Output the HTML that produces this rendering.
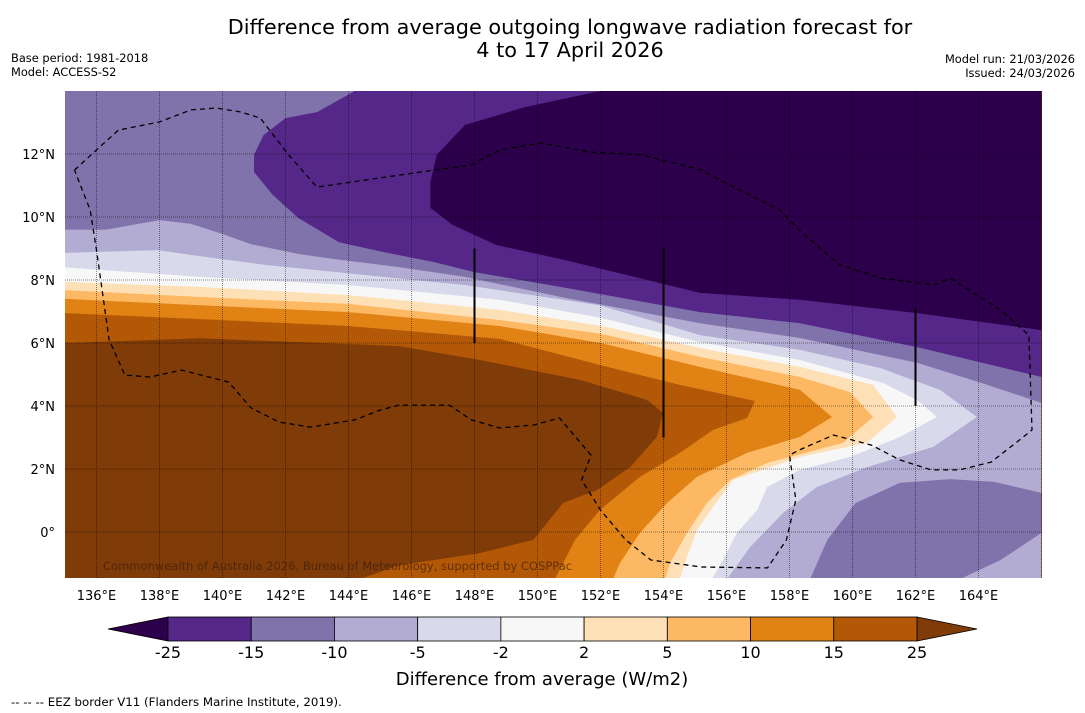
<!DOCTYPE html>
<html><head><meta charset="utf-8"><style>
body{margin:0;background:#fff;width:1085px;height:713px;overflow:hidden;font-family:"Liberation Sans","DejaVu Sans",sans-serif}
svg{display:block}
</style></head><body>
<svg id="chart" width="1085" height="713" xmlns="http://www.w3.org/2000/svg" font-family="'DejaVu Sans','Liberation Sans',sans-serif">
<text x="570" y="34" font-size="20.8" text-anchor="middle">Difference from average outgoing longwave radiation forecast for</text>
<text x="570" y="57" font-size="20.8" text-anchor="middle">4 to 17 April 2026</text>
<text x="11" y="62" font-size="11.4">Base period: 1981-2018</text>
<text x="11" y="76" font-size="11.4">Model: ACCESS-S2</text>
<text x="1075" y="63" font-size="11.4" text-anchor="end">Model run: 21/03/2026</text>
<text x="1075" y="77" font-size="11.4" text-anchor="end">Issued: 24/03/2026</text>
<defs><clipPath id="mapclip"><rect x="65" y="91" width="977" height="487"/></clipPath></defs>
<g id="map" clip-path="url(#mapclip)"></g>
<g id="axes"></g>
<g id="cbar"></g>
<text x="542" y="685" font-size="18" text-anchor="middle">Difference from average (W/m2)</text>
<text x="11" y="706" font-size="11.8">--  --  -- EEZ border V11 (Flanders Marine Institute, 2019).</text>
</svg>
<script>
const NS="http://www.w3.org/2000/svg";
const levels=[-25,-15,-10,-5,-2,2,5,10,15,25];
const levelLabels=["-25","-15","-10","-5","-2","2","5","10","15","25"];
const bandColors=["#2d004b","#542788","#8073ac","#b2abd2","#d8daeb","#f7f7f7","#fee0b6","#fdb863","#e08214","#b35806","#7f3b08"];
const lonTicks=[136,138,140,142,144,146,148,150,152,154,156,158,160,162,164];
const latTicks=[12,10,8,6,4,2,0];
const lonMin=135,lonMax=166,latMin=-1.46,latMax=14;
// contour boundaries [lon,lat]; region "value < level" lies above/right
const c25=[[135,6.0],[139.3,6.15],[145.6,5.9],[148.17,5.46],[151.35,4.83],[153.48,4.19],[153.98,3.78],[153.79,3.02],[152.94,2.06],[151.89,1.33],[150.81,0.92],[150.3,0.29],[149.86,-0.25],[148.17,-0.67],[145.63,-1.05],[144.37,-1.49]];
const c15=[[135,6.95],[139.3,6.76],[144.0,6.54],[148.8,6.13],[151.98,5.3],[154.52,4.67],[156.9,4.16],[156.65,3.62],[155.57,3.24],[154.52,2.51],[153.25,1.75],[151.98,0.7],[151.19,-0.25],[150.56,-1.49]];
const c10=[[135,7.4],[139.3,7.2],[144.0,6.98],[148.8,6.54],[152.0,6.0],[155.16,5.24],[158.33,4.51],[159.35,3.65],[158.33,3.02],[156.65,2.51],[155.06,1.75],[154.11,0.92],[153.25,-0.03],[152.62,-0.98],[152.4,-1.49]];
const c5=[[135,7.68],[139.3,7.46],[144.0,7.24],[148.8,6.73],[152.0,6.3],[155.16,5.56],[158.33,4.92],[159.92,4.44],[160.65,3.65],[159.7,2.83],[157.29,2.19],[156.11,1.65],[155.38,0.92],[154.75,-0.03],[154.21,-0.98],[154.05,-1.49]];
const c2=[[135,7.94],[139.3,7.78],[144.0,7.52],[148.8,7.05],[152.0,6.55],[155.16,5.84],[158.33,5.24],[160.65,4.67],[161.41,3.65],[160.46,2.83],[158.33,2.38],[156.21,1.65],[155.57,0.79],[155.06,0.06],[154.75,-0.79],[154.52,-1.49]];
const cm2=[[135,8.4],[139.3,8.1],[144.0,7.84],[148.8,7.37],[152.0,6.8],[155.16,6.03],[158.33,5.46],[160.97,4.73],[162.05,4.19],[162.68,3.65],[161.51,3.02],[159.92,2.38],[158.33,1.97],[157.29,1.43],[156.97,0.7],[156.33,-0.03],[155.89,-0.89],[155.54,-1.49]];
const cm5=[[135,8.86],[137.95,8.95],[139.03,8.79],[141.35,8.48],[144.52,8.16],[147.7,7.84],[151.98,7.2],[155.16,6.25],[158.33,5.78],[160.87,5.21],[162.78,4.51],[163.95,3.65],[162.56,2.7],[160.46,2.06],[158.87,1.43],[157.79,0.6],[156.75,-0.48],[156.02,-1.49]];
const cm10=[[135,9.6],[136.3,9.6],[138.0,9.9],[139.0,9.78],[140.0,9.46],[140.9,9.14],[142.4,8.83],[143.5,8.67],[145.6,8.41],[147.7,8.1],[150.9,7.43],[155.16,6.63],[158.33,6.16],[162.05,5.37],[164.1,4.73],[166,4.1]];
const cm10b=[[166,1.24],[164.5,1.59],[163.1,1.68],[161.5,1.56],[160.1,0.92],[159.2,-0.25],[158.65,-1.5],[163.4,-1.5],[164.7,-0.89],[166,-0.03]];
const cm15=[[144.2,14],[143.0,13.33],[142.0,13.14],[141.3,12.6],[141.0,11.97],[141.0,11.43],[141.6,10.7],[142.4,9.97],[143.7,9.2],[145.1,8.89],[146.7,8.57],[148.0,8.25],[150.9,7.75],[155.16,6.98],[158.33,6.63],[162.05,5.87],[166,4.92]];
const cm25=[[152.0,14],[149.6,13.49],[147.7,12.92],[146.8,11.97],[146.6,11.11],[146.6,10.29],[147.3,9.75],[148.7,9.11],[150.9,8.63],[155.16,7.59],[158.33,7.37],[162.05,6.95],[166,6.41]];
const eez=[[135.3,11.49],[136.0,12.13],[136.7,12.76],[138.0,13.02],[139.0,13.4],[139.8,13.46],[140.6,13.33],[141.2,13.14],[142.1,11.97],[143.0,10.95],[145.0,11.24],[146.3,11.43],[147.9,11.65],[148.8,12.13],[150.1,12.35],[151.7,12.06],[153.3,11.97],[155.2,11.49],[156.4,10.86],[157.7,10.22],[158.3,9.59],[159.6,8.48],[160.9,8.06],[162.6,7.84],[163.1,8.06],[164.7,7.05],[165.6,6.25],[165.7,3.24],[165.3,2.92],[164.4,2.22],[163.4,1.97],[162.5,1.97],[161.5,2.29],[160.6,2.76],[159.4,3.08],[158.3,2.6],[158.0,2.44],[158.2,1.02],[157.9,-0.25],[157.3,-1.14],[155.2,-1.11],[153.6,-0.89],[152.8,-0.25],[152.0,0.7],[151.4,1.65],[151.7,2.44],[150.7,3.62],[149.9,3.4],[148.8,3.3],[147.9,3.56],[147.2,4.03],[145.6,4.03],[145.0,3.87],[144.2,3.56],[142.8,3.33],[141.8,3.49],[140.9,3.94],[140.2,4.76],[138.7,5.14],[137.7,4.92],[136.9,4.98],[136.4,6.1],[136.0,8.95],[135.8,10.22],[135.3,11.49]];
const vlines=[[148,9,6],[154,9,3],[162,7.1,4]];

const X=lon=>65+(lon-lonMin)*31.5;
const Y=lat=>91+(latMax-lat)*31.5;
const BR=[[166,-1.6],[166,14.1],[134.9,14.1]], TR=[[166,14.1],[134.9,14.1]], T=[[166,14.1]];
function pts(a){return a.map(p=>X(p[0]).toFixed(1)+","+Y(p[1]).toFixed(1)).join(" ");}
const map=document.getElementById("map");
function poly(a,fill,name){const e=document.createElementNS(NS,"polygon");e.setAttribute("points",pts(a));e.setAttribute("fill",fill);


map.appendChild(e);}
const bg=document.createElementNS(NS,"rect");bg.setAttribute("x",65);bg.setAttribute("y",91);bg.setAttribute("width",977);bg.setAttribute("height",487);bg.setAttribute("fill",bandColors[10]);


map.appendChild(bg);
poly(c25.concat(BR),bandColors[9],"band-15-25");
poly(c15.concat(BR),bandColors[8],"band-10-15");
poly(c10.concat(BR),bandColors[7],"band-5-10");
poly(c5.concat(BR),bandColors[6],"band-2-5");
poly(c2.concat(BR),bandColors[5],"band-neutral");
poly(cm2.concat(BR),bandColors[4],"band-minus2-minus5");
poly(cm5.concat(BR),bandColors[3],"band-minus5-minus10");
poly(cm10.concat(TR),bandColors[2],"band-minus10-minus15");
poly(cm10b,bandColors[2],"band-minus10-minus15-south");
poly(cm15.concat(T),bandColors[1],"band-minus15-minus25");
poly(cm25.concat(T),bandColors[0],"band-below-minus25");
lonTicks.concat([166]).forEach(l=>{const e=document.createElementNS(NS,"line");e.setAttribute("x1",X(l));e.setAttribute("x2",X(l));e.setAttribute("y1",91);e.setAttribute("y2",578);e.setAttribute("stroke","rgba(0,0,0,0.45)");e.setAttribute("stroke-dasharray","1,1");


map.appendChild(e);});
latTicks.forEach(l=>{const e=document.createElementNS(NS,"line");e.setAttribute("y1",Y(l));e.setAttribute("y2",Y(l));e.setAttribute("x1",65);e.setAttribute("x2",1042);e.setAttribute("stroke","rgba(0,0,0,0.45)");e.setAttribute("stroke-dasharray","1,1");


map.appendChild(e);});
const pl=document.createElementNS(NS,"polyline");pl.setAttribute("points",pts(eez));pl.setAttribute("fill","none");pl.setAttribute("stroke","#000");pl.setAttribute("stroke-width","1.3");pl.setAttribute("stroke-dasharray","5,4");


map.appendChild(pl);
vlines.forEach(v=>{const e=document.createElementNS(NS,"line");e.setAttribute("x1",X(v[0]));e.setAttribute("x2",X(v[0]));e.setAttribute("y1",Y(v[1]));e.setAttribute("y2",Y(v[2]));e.setAttribute("stroke","#000");e.setAttribute("stroke-width","2");


map.appendChild(e);});
const cp=document.createElementNS(NS,"text");cp.setAttribute("x",103);cp.setAttribute("y",570);cp.setAttribute("font-size","11.5");cp.setAttribute("fill","rgba(60,30,10,0.7)");cp.textContent="Commonwealth of Australia 2026, Bureau of Meteorology, supported by COSPPac";


map.appendChild(cp);
const ax=document.getElementById("axes");
lonTicks.forEach(l=>{const t=document.createElementNS(NS,"text");t.setAttribute("x",X(l));t.setAttribute("y",600);t.setAttribute("font-size","13");t.setAttribute("text-anchor","middle");t.textContent=l+"°E";


ax.appendChild(t);});
latTicks.forEach(l=>{const t=document.createElementNS(NS,"text");t.setAttribute("x",55);t.setAttribute("y",Y(l)+5);t.setAttribute("font-size","13");t.setAttribute("text-anchor","end");t.textContent=l===0?"0°":l+"°N";


ax.appendChild(t);});
const cb=document.getElementById("cbar");
const cbL=168,cbR=917,cbT=617,cbB=641,cw=(cbR-cbL)/(levels.length-1);
const CX=i=>cbL+i*cw;
function cbEl(tag,attrs,name){const e=document.createElementNS(NS,tag);for(const k in attrs)e.setAttribute(k,attrs[k]);


cb.appendChild(e);return e;}
cbEl("polygon",{points:`${cbL},${cbT} ${cbL},${cbB} 108,629`,fill:bandColors[0],stroke:"#000","stroke-width":0.8},"colorbar-extend-low");
cbEl("polygon",{points:`${cbR},${cbT} ${cbR},${cbB} 977,629`,fill:bandColors[10],stroke:"#000","stroke-width":0.8},"colorbar-extend-high");
for(let i=0;i<levels.length-1;i++){cbEl("rect",{x:CX(i),y:cbT,width:cw,height:cbB-cbT,fill:bandColors[i+1],stroke:"#000","stroke-width":0.8},"colorbar-swatch");}
levels.forEach((v,i)=>{const t=cbEl("text",{x:CX(i),y:658,"font-size":16,"text-anchor":"middle"},"colorbar-tick-label");t.textContent=levelLabels[i];});
</script>
</body></html>
